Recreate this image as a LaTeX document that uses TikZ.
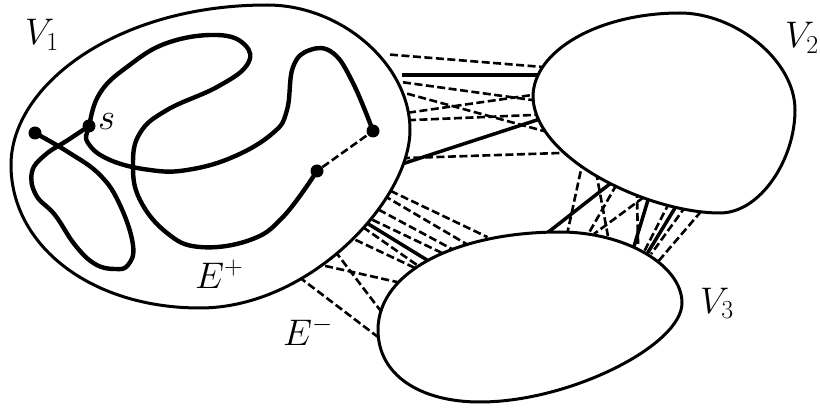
\RequirePackage{fix-cm}
\documentclass[tikz,border=0pt]{standalone}
\begin{document}
\begin{tikzpicture}[x=1pt,y=-1pt,
  blob/.style={draw, line width=3pt, fill=white},
  curve/.style={line width=4.4pt, line cap=round, line join=round},
  sedge/.style={line width=3.5pt, shorten <=-5pt, shorten >=-5pt},
  dedge/.style={line width=2.6pt, dash pattern=on 8pt off 3.5pt, shorten <=-5pt, shorten >=-5pt},
  ddash/.style={line width=2.6pt, dash pattern=on 8pt off 3.5pt},
  dot/.style={circle, fill, inner sep=0pt, minimum size=13pt},
  lab/.style={anchor=base west, inner sep=0pt, font=\fontsize{37}{40}\selectfont}]
\useasboundingbox (0,0) rectangle (820,409);

% edges V1 - V2
\draw[dedge] (395,55) -- (543,67);
\draw[sedge] (407,75) -- (537,75);
\draw[dedge] (408,83) -- (532,100);
\draw[dedge] (412,95) -- (540,130);
\draw[dedge] (413,112) -- (532,95);
\draw[dedge] (413,120) -- (532,115);
\draw[sedge] (405,163) -- (537,120);
\draw[dedge] (407,158) -- (560,153);

% edges V1 - V3
\draw[dedge] (395,193) -- (483,235);
\draw[dedge] (388,198) -- (463,242);
\draw[dedge] (383,212) -- (450,248);
\draw[dedge] (377,222) -- (440,252);
\draw[sedge] (370,225) -- (427,260);
\draw[dedge] (367,230) -- (417,265);
\draw[dedge] (360,242) -- (413,267);
\draw[dedge] (338,255) -- (380,310);
\draw[dedge] (330,267) -- (397,282);
\draw[dedge] (303,280) -- (378,337);

% edges V2 - V3
\draw[dedge] (582,165) -- (568,230);
\draw[sedge] (611,183) -- (551,230);
\draw[dedge] (597,177) -- (607,231);
\draw[dedge] (614,189) -- (590,231);
\draw[dedge] (640,200) -- (598,231);
\draw[dedge] (637,195) -- (638,242);
\draw[sedge] (648,200) -- (635,243);
\draw[dedge] (667,207) -- (646,248);
\draw[sedge] (675,208) -- (650,249);
\draw[dedge] (683,210) -- (654,250);
\draw[dedge] (698,215) -- (662,257);

% blobs
\draw[blob] (11,165) .. controls (11,85) and (117,5) .. (267,5)
  .. controls (342,5) and (410,65) .. (410,130)
  .. controls (410,200) and (310,308) .. (200,308)
  .. controls (90,308) and (11,245) .. (11,165) -- cycle;
\draw[blob] (533,97) .. controls (533,50) and (600,13) .. (680,13)
  .. controls (735,13) and (795,60) .. (795,110)
  .. controls (795,160) and (760,213) .. (720,213)
  .. controls (650,213) and (535,160) .. (533,97) -- cycle;
\draw[blob] (378,330) .. controls (378,270) and (460,232) .. (560,232)
  .. controls (625,232) and (682,265) .. (682,303)
  .. controls (682,345) and (570,402) .. (480,402)
  .. controls (420,402) and (378,375) .. (378,330) -- cycle;

% inner curves
\draw[curve] plot[smooth, tension=0.7] coordinates {(35,133) (68,152) (100,175) (120,205) (133,245) (128,265) (115,269) (95,264) (75,245) (55,215) (36,195) (32,172) (45,155) (68,140) (89,126)};
\draw[curve] plot[smooth, tension=0.7] coordinates {(317,171) (283,217) (250,240) (200,247) (167,233) (140,200) (133,165) (140,133) (167,110) (217,87) (247,65) (245,45) (217,35) (167,43) (127,67) (100,93) (89,126) (88,143) (110,160) (150,170) (187,170) (233,157) (273,133) (287,110) (293,67) (310,50) (333,53) (353,83) (373,131)};

\node[dot] (d1) at (35,133) {};
\node[dot] (s) at (89,126) {};
\node[dot] (d3) at (373,131) {};
\node[dot] (d4) at (317,171) {};
\draw[ddash] (d4) -- (d3);

% labels
\node[lab] (lv1) at (25,45) {$V_1$};
\node[lab] (lv2) at (785,48) {$V_2$};
\node[lab] (lv3) at (700,313) {$V_3$};
\node[lab] (lep) at (195,288) {$E^+$};
\node[lab] (lem) at (283,345) {$E^-$};
\node[lab] (ls) at (98,130) {$s$};
\end{tikzpicture}
\end{document}
